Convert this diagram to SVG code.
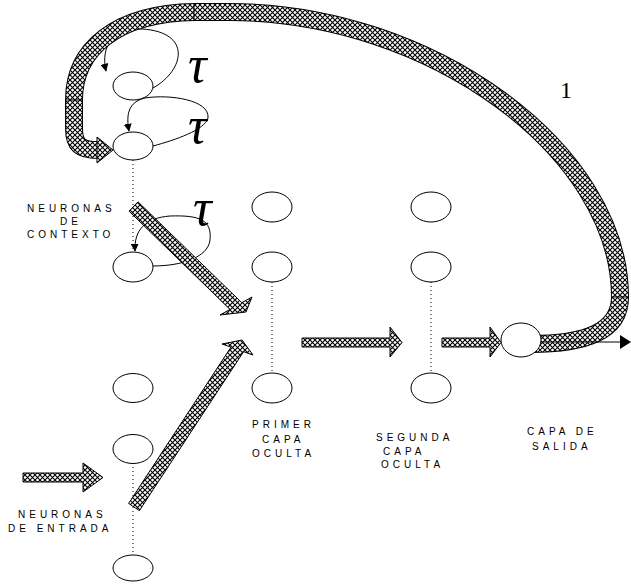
<svg xmlns="http://www.w3.org/2000/svg" width="631" height="584" viewBox="0 0 631 584">
  <defs>
    <!-- cross-hatched fill used by the thick arrows -->
    <pattern id="hatch" patternUnits="userSpaceOnUse" width="5" height="5">
      <rect width="5" height="5" fill="#fff"/>
      <path d="M0 0 L5 5 M5 0 L0 5" stroke="#000" stroke-width="1.1"/>
    </pattern>
    <marker id="tip" viewBox="0 0 10 10" refX="9" refY="5" markerWidth="8" markerHeight="8" orient="auto" markerUnits="userSpaceOnUse">
      <path d="M0 0 L10 5 L0 10 Z" fill="#000"/>
    </marker>
  </defs>
  <style>
    .node { fill: #fff; stroke: #000; stroke-width: 1; }
    .loop { fill: none; stroke: #000; stroke-width: 1; marker-end: url(#tip); }
    .dots { stroke: #000; stroke-width: 1; stroke-dasharray: 1 3; fill: none; }
    .fat { fill: url(#hatch); stroke: #000; stroke-width: 1; stroke-linejoin: miter; }
    .lbl { font-family: "Liberation Sans", Arial, sans-serif; font-size: 10px; letter-spacing: 4px; fill: #000; }
    .tau { font-family: "Liberation Serif", "Times New Roman", serif; font-style: italic; font-size: 52px; fill: #000; }
    .num { font-family: "Liberation Serif", "Times New Roman", serif; font-size: 24px; fill: #000; }
  </style>

  <g id="connectors">
    <!-- self-recurrent delay loops on the context neurons -->
    <path class="loop" d="M153 88 C185 70 192 32 142 29 C115 27 100 45 106 71"/>
    <path class="loop" d="M153 146 C175 140 205 130 208 118 C210 100 170 94 145 98 C128 102 126 115 129 131"/>
    <path class="loop" d="M153 266 C180 266 208 258 210 240 C212 220 200 215 170 216 C145 218 134 230 135 251"/>

    <!-- wide feedback band from the output layer back to the context layer -->
    <path d="M530 344 C585 344 620 332 620 297 C620 150 430 12 230 12 L195 12 C115 13 74 50 74 100 L74 128 C74 145 80 150 98 150" fill="none" stroke="#000" stroke-width="18"/>
    <path d="M530 344 C585 344 620 332 620 297 C620 150 430 12 230 12 L195 12 C115 13 74 50 74 100 L74 128 C74 145 80 150 98 150" fill="none" stroke="url(#hatch)" stroke-width="16"/>
    <path d="M97 137 L113 150 L97 163 Z" class="fat"/>
    <path d="M611 297 H629 M194 3 V21 M65 100 H83" stroke="#000" stroke-width="1"/>

    <!-- dotted columns -->
    <path class="dots" d="M133 160 V252 M272 282 V373 M431 282 V374 M133 463 V555"/>

    <!-- layer-to-layer arrows -->
    <polygon class="fat" points="23,473 83,473 83,463 103,477.5 83,492 83,482 23,482"/>
    <polygon class="fat" points="302,338 390,338 390,327 402,342.5 390,357 390,347 302,347"/>
    <polygon class="fat" points="442,338 490,338 490,327 501,342.5 490,357 490,347 442,347"/>
    <polygon class="fat" points="138,201.8 241.8,302.7 252,297 246,312 220,315 230,309.4 129,211.2"/>
    <polygon class="fat" points="128.6,503.4 231,347.1 222,344 242,340 253,355 243.6,351.7 139.4,510.6"/>

    <!-- network output -->
    <path d="M541 342 H621" stroke="#000" stroke-width="1"/>
    <path d="M620 335 L631 342 L620 349 Z" fill="#000"/>
  </g>

  <g id="context-1"><ellipse class="node" cx="133" cy="86" rx="20" ry="14"/></g>
  <g id="context-2"><ellipse class="node" cx="133" cy="146" rx="20" ry="14"/></g>
  <g id="context-3"><ellipse class="node" cx="133" cy="267" rx="20" ry="15"/></g>

  <g id="input-1"><ellipse class="node" cx="133" cy="388" rx="20" ry="14.5"/></g>
  <g id="input-2"><ellipse class="node" cx="133" cy="449" rx="20" ry="14.5"/></g>
  <g id="input-3"><ellipse class="node" cx="133" cy="568" rx="20" ry="13"/></g>

  <g id="hidden1-1"><ellipse class="node" cx="272" cy="207" rx="20" ry="15"/></g>
  <g id="hidden1-2"><ellipse class="node" cx="272" cy="267" rx="20" ry="15"/></g>
  <g id="hidden1-3"><ellipse class="node" cx="272" cy="388" rx="20" ry="15"/></g>

  <g id="hidden2-1"><ellipse class="node" cx="431" cy="207" rx="20" ry="15"/></g>
  <g id="hidden2-2"><ellipse class="node" cx="431" cy="267" rx="20" ry="15"/></g>
  <g id="hidden2-3"><ellipse class="node" cx="431" cy="388" rx="20" ry="15"/></g>

  <g id="output"><ellipse class="node" cx="521" cy="340" rx="20" ry="17"/></g>

  <g id="labels">
    <text class="tau" x="188" y="82">τ</text>
    <text class="tau" x="188" y="143">τ</text>
    <text class="tau" x="193" y="225">τ</text>
    <text class="num" x="560" y="98">1</text>

    <text class="lbl" x="27" y="212">NEURONAS</text>
    <text class="lbl" x="60" y="225">DE</text>
    <text class="lbl" x="27" y="238">CONTEXTO</text>

    <text class="lbl" x="18" y="518">NEURONAS</text>
    <text class="lbl" x="8" y="532">DE ENTRADA</text>

    <text class="lbl" x="252" y="428">PRIMER</text>
    <text class="lbl" x="262" y="443">CAPA</text>
    <text class="lbl" x="252" y="456.5">OCULTA</text>

    <text class="lbl" x="376" y="441">SEGUNDA</text>
    <text class="lbl" x="383" y="455">CAPA</text>
    <text class="lbl" x="381" y="468">OCULTA</text>

    <text class="lbl" x="527" y="435">CAPA DE</text>
    <text class="lbl" x="532" y="450">SALIDA</text>
  </g>
</svg>
